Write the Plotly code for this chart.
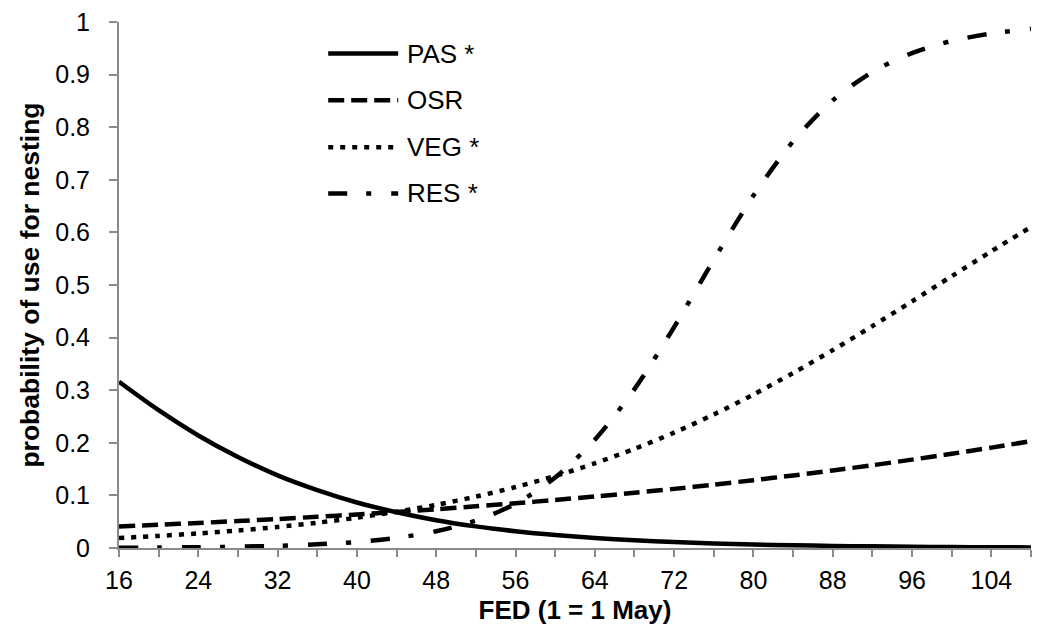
import plotly.graph_objects as go

# First egg date (day 1 = 1 May)
fed = [16, 20, 24, 28, 32, 36, 40, 44, 48, 52, 56, 60,
       64, 68, 72, 76, 80, 84, 88, 92, 96, 100, 104, 108]

# Predicted probability of use for nesting per habitat
pas = [0.316, 0.262, 0.214, 0.173, 0.138, 0.110, 0.0865, 0.0679, 0.0529, 0.0411,
       0.0319, 0.0247, 0.0191, 0.0147, 0.0113, 0.0087, 0.0067, 0.0052, 0.0040,
       0.0031, 0.0024, 0.0018, 0.0014, 0.0011]
osr = [0.041, 0.0442, 0.0476, 0.0512, 0.0551, 0.0593, 0.0638, 0.0685, 0.0737,
       0.0792, 0.0851, 0.0913, 0.0979, 0.1050, 0.1124, 0.1205, 0.1290, 0.1379,
       0.1474, 0.1574, 0.1680, 0.1792, 0.1908, 0.2031]
veg = [0.019, 0.0230, 0.0277, 0.0333, 0.0400, 0.0481, 0.0576, 0.0689, 0.0821,
       0.0977, 0.1159, 0.1369, 0.1611, 0.1885, 0.2194, 0.2539, 0.2918, 0.3327,
       0.3762, 0.4219, 0.4690, 0.5167, 0.5641, 0.6102]
res = [0.0005, 0.0009, 0.0015, 0.0025, 0.0041, 0.0069, 0.0115, 0.0193, 0.0318,
       0.052, 0.084, 0.134, 0.206, 0.302, 0.420, 0.548, 0.670, 0.773, 0.851,
       0.905, 0.941, 0.964, 0.978, 0.987]

series_names = ["PAS *", "OSR", "VEG *", "RES *"]
series_values = [pas, osr, veg, res]
series_dash = ["solid", "16px,7px", "5px,7px", "19px,19px,5px,20px"]

x_minor_ticks = list(range(16, 109, 4))
x_tick_labels = [str(v) if (v - 16) % 8 == 0 and v <= 104 else "" for v in x_minor_ticks]
y_ticks = [0, 0.1, 0.2, 0.3, 0.4, 0.5, 0.6, 0.7, 0.8, 0.9, 1]
y_tick_labels = ["0", "0.1", "0.2", "0.3", "0.4", "0.5", "0.6", "0.7", "0.8", "0.9", "1"]

FONT = "Liberation Sans, Arial, sans-serif"
AXIS_GREY = "#8a8a8a"
LINE_W = 4.5

fig = go.Figure()
for name, vals, dash in zip(series_names, series_values, series_dash):
    fig.add_trace(go.Scatter(
        x=fed, y=vals, name=name, mode="lines",
        line=dict(color="black", width=LINE_W, dash=dash, shape="spline", smoothing=0.8),
        showlegend=False,
    ))

# Hand-built legend: long line samples with labels to their right
legend_y = [0.940, 0.851, 0.762, 0.674]
for name, dash, yy in zip(series_names, series_dash, legend_y):
    fig.add_shape(type="line", xref="paper", yref="paper",
                  x0=0.2294, x1=0.3061, y0=yy, y1=yy,
                  line=dict(color="black", width=LINE_W, dash=dash))
    fig.add_annotation(xref="paper", yref="paper", x=0.3131, y=yy,
                       text=name, showarrow=False, xanchor="left", yanchor="middle",
                       font=dict(family=FONT, size=26, color="black"))

fig.update_layout(
    width=1038, height=634,
    margin=dict(l=119, r=7, t=22, b=86),
    paper_bgcolor="white", plot_bgcolor="white",
    font=dict(family=FONT, size=25, color="black"),
    xaxis=dict(
        range=[16, 108], tickmode="array", tickvals=x_minor_ticks, ticktext=x_tick_labels,
        ticks="outside", ticklen=7, tickwidth=2, tickcolor=AXIS_GREY,
        showline=True, linecolor=AXIS_GREY, linewidth=2, showgrid=False, zeroline=False,
        tickfont=dict(size=25), ticklabelstandoff=2,
        title=dict(text="<b>FED (1 = 1 May)</b>", font=dict(size=26), standoff=8),
    ),
    yaxis=dict(
        range=[0, 1], tickmode="array", tickvals=y_ticks, ticktext=y_tick_labels,
        ticks="outside", ticklen=8, tickwidth=2, tickcolor=AXIS_GREY,
        showline=True, linecolor=AXIS_GREY, linewidth=2, showgrid=False, zeroline=False,
        tickfont=dict(size=25), ticklabelstandoff=14,
        title=dict(text="<b>probability of use for nesting</b>", font=dict(size=26.5), standoff=8),
    ),
)

fig.write_html("out.html")
